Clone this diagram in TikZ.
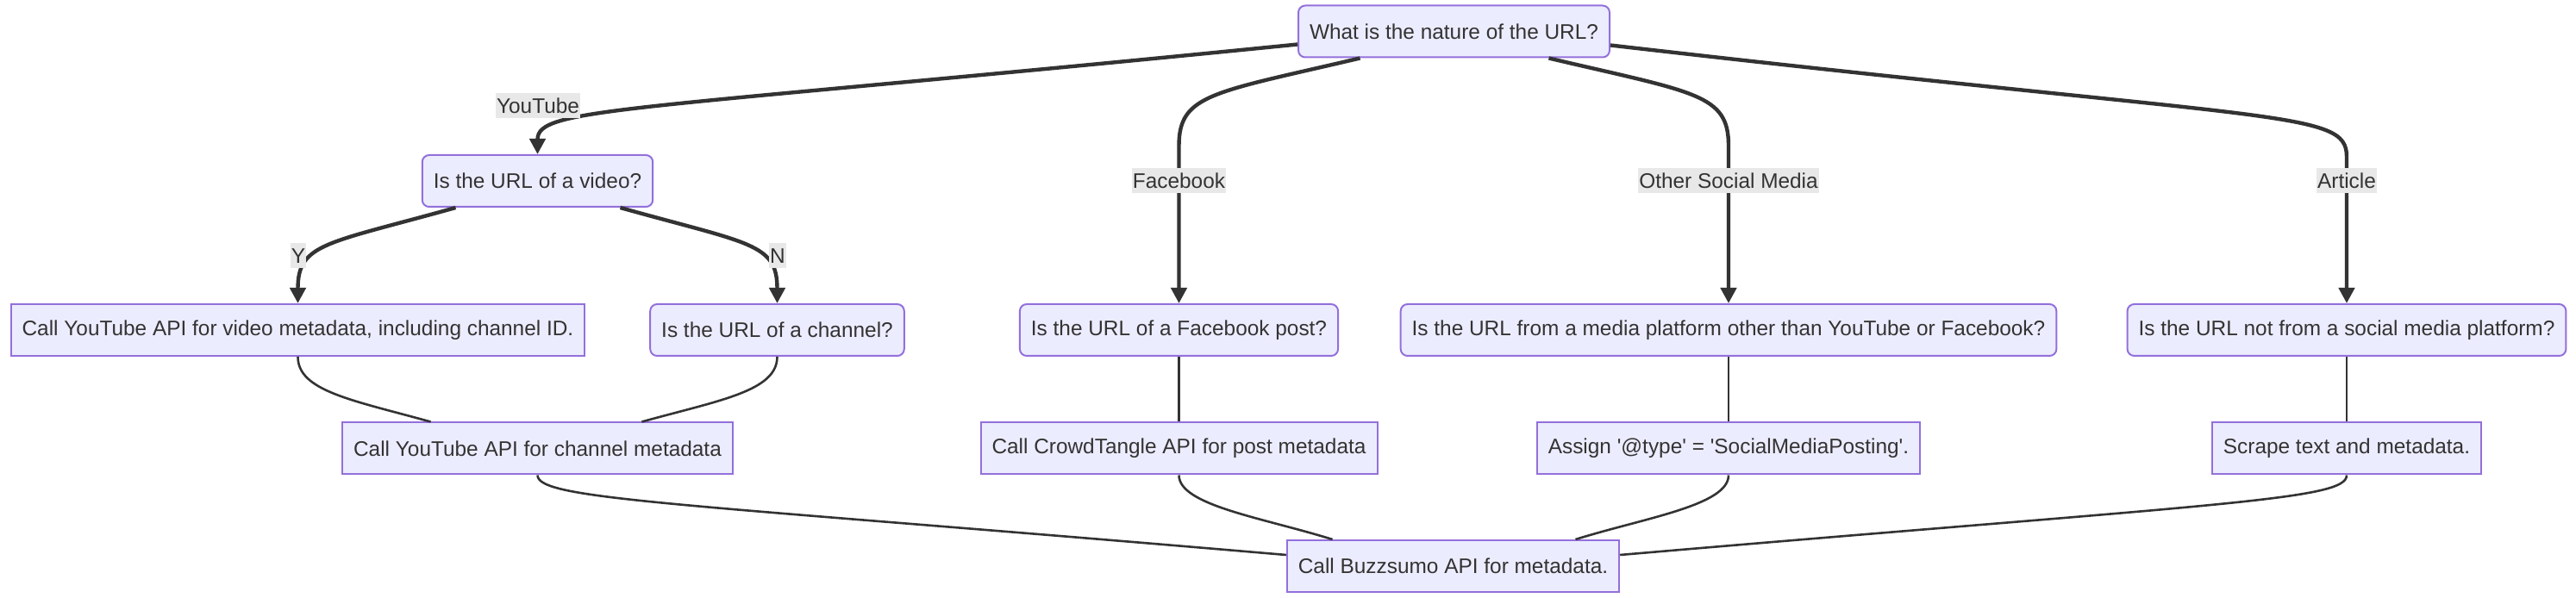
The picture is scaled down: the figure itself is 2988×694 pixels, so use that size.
\documentclass[tikz,border=0pt]{standalone}
\usepackage{fontspec}
\setmainfont{Liberation Sans}
\usetikzlibrary{arrows.meta,calc}
\definecolor{boxfill}{HTML}{ECECFF}
\definecolor{boxline}{HTML}{9370DB}
\definecolor{ink}{HTML}{333333}
\definecolor{lblfill}{HTML}{E8E8E8}

\begin{document}
\begin{tikzpicture}[x=0.5pt, y=-0.5pt]
	\tikzset{act/.style={draw=boxline, fill=boxfill, line width=1pt, text=ink, minimum height=30pt, inner xsep=6.5pt, font=\fontsize{12.2}{14}\selectfont},
	ask/.style={act, rounded corners=4pt},
	f/.style={draw=ink, line width=2.2pt, -{Triangle[width=9pt, length=9pt]}},
	g/.style={draw=ink, line width=1.3pt},
	lab/.style={fill=lblfill, text=ink, inner xsep=0.5pt, inner ysep=0pt, minimum height=14.5pt, font=\fontsize{12.2}{14}\selectfont}};

	\useasboundingbox (0,0) rectangle (2988,694);

	\node[ask] (url) at (1686.5,36.5) {What is the nature of the URL?};
	\node[ask] (video) at (623.5,210) {Is the URL of a video?};
	\node[act] (ytvideo) at (345.5,383) {Call YouTube API for video metadata, including channel ID.};
	\node[ask] (channel) at (901.5,383) {Is the URL of a channel?};
	\node[ask] (fbpost) at (1367.5,383) {Is the URL of a Facebook post?};
	\node[ask] (social) at (2005,383) {Is the URL from a media platform other than YouTube or Facebook?};
	\node[ask] (article) at (2722,383) {Is the URL not from a social media platform?};
	\node[act] (ytchannel) at (623.5,520.5) {Call YouTube API for channel metadata};
	\node[act] (crowd) at (1367.5,520.5) {Call CrowdTangle API for post metadata};
	\node[act] (assign) at (2005,520.5) {Assign \textquotesingle @type\textquotesingle{} = \textquotesingle SocialMediaPosting\textquotesingle.};
	\node[act] (scrape) at (2722,520.5) {Scrape text and metadata.};
	\node[act] (buzz) at (1685.5,657) {Call Buzzsumo API for metadata.};

	% branches out of the first question
	\draw[f] ($(url.west)+(0,15)$) .. controls +(-780,78) and +(0,-55) .. (video.north);
	\draw[f] ($(url.south)+(-109,0)$) .. controls +(-170,40) and +(0,-60) .. ($(fbpost.north)+(0,-183)$) -- (fbpost.north);
	\draw[f] ($(url.south)+(110,0)$) .. controls +(170,40) and +(0,-60) .. ($(social.north)+(0,-183)$) -- (social.north);
	\draw[f] ($(url.east)+(0,16)$) .. controls +(780,90) and +(0,-55) .. ($(article.north)+(0,-170)$) -- (article.north);
	\draw[f] ($(video.south)+(-95,0)$) .. controls +(-150,42) and +(0,-70) .. (ytvideo.north);
	\draw[f] ($(video.south)+(96,0)$) .. controls +(150,42) and +(0,-70) .. (channel.north);

	% plain links down to Buzzsumo
	\draw[g] (ytvideo.south) .. controls +(0,40) and +(-90,-25) .. ($(ytchannel.north)+(-124,0)$);
	\draw[g] (channel.south) .. controls +(0,40) and +(90,-25) .. ($(ytchannel.north)+(121,0)$);
	\draw[g] (fbpost) -- (crowd);
	\draw[g] (social) -- (assign);
	\draw[g] (article) -- (scrape);
	\draw[g] (ytchannel.south) .. controls +(0,29) and +(-700,-60) .. ($(buzz.west)+(0,-13)$);
	\draw[g] (crowd.south) .. controls +(0,35) and +(-80,-25) .. ($(buzz.north)+(-140,0)$);
	\draw[g] (assign.south) .. controls +(0,35) and +(80,-25) .. ($(buzz.north)+(142,0)$);
	\draw[g] (scrape.south) .. controls +(0,29) and +(700,-60) .. ($(buzz.east)+(0,-13)$);

	\node[lab] (ltube) at (624,123) {YouTube};
	\node[lab] (lyes) at (346,297) {Y};
	\node[lab] (lno) at (902,297) {N};
	\node[lab] (lfb) at (1367.5,210) {Facebook};
	\node[lab] (lsocial) at (2005,210) {Other Social Media};
	\node[lab] (larticle) at (2722,210) {Article};
\end{tikzpicture}
\end{document}
